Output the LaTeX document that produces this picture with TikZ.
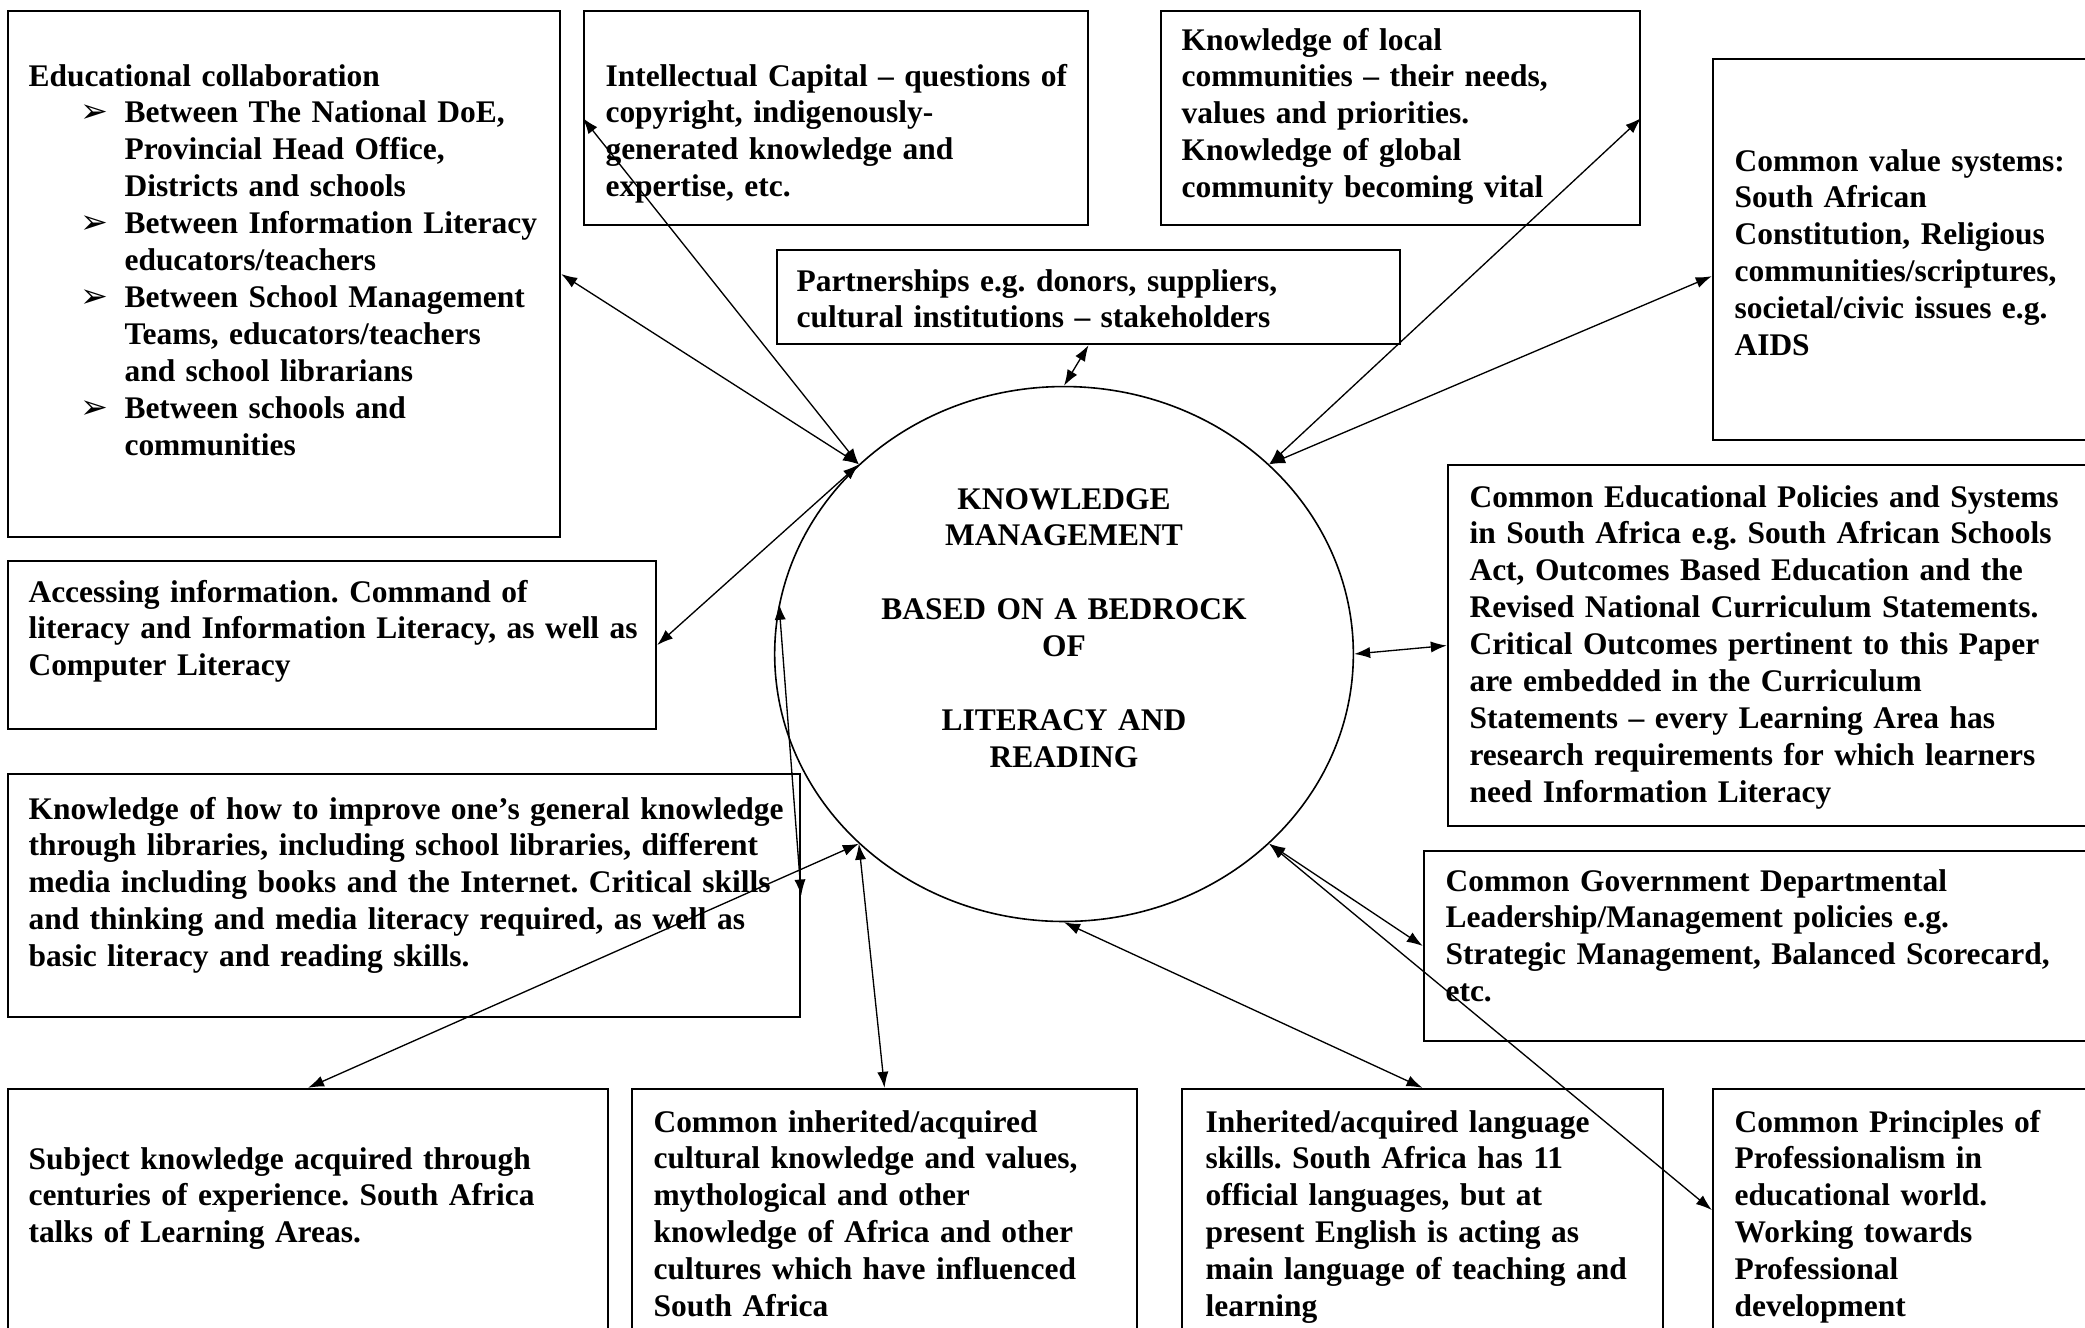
\documentclass[tikz,border=0pt]{standalone}
\usepackage{fontspec}
\setmainfont{Liberation Serif}
\newfontfamily\dingfont{DejaVu Sans}
\usetikzlibrary{arrows.meta,fit,shapes.geometric}
\frenchspacing
\newcommand\kmbullet{\hspace*{19.5pt}\makebox[16.5pt][l]{\dingfont\mdseries\fontsize{12.5}{13}\selectfont ➢}}
\newcommand\kmindent{\hspace*{36pt}}

\begin{document}
\begin{tikzpicture}[x=0.375pt,y=-0.375pt,
  card/.style={draw,line width=0.9pt,inner sep=0pt},
  blurb/.style={anchor=base west,align=left,text width=320pt,inner sep=0pt,font=\bfseries\fontsize{11.8}{13.85}\selectfont},
  link/.style={<->,>={Latex[length=6pt,width=4.2pt]},line width=0.5pt}]
  \useasboundingbox (0,0) rectangle (2085,1327); \clip (0,0) rectangle (2085,1327);
  \node[card,fit={(8,11) (560,537)}] (edu) {}; \node[card,fit={(584,11) (1088,225)}] (intel) {};
  \node[card,fit={(1161,11) (1640,225)}] (local) {}; \node[card,fit={(1713,59) (2100,440)}] (values) {};
  \node[card,fit={(777,250) (1400,344)}] (partner) {};
  \node[card,fit={(8,561) (656,729)}] (access) {}; \node[card,fit={(8,774) (800,1017)}] (improve) {};
  \node[card,fit={(1448,465) (2100,826)}] (policy) {}; \node[card,fit={(1424,851) (2100,1041)}] (govern) {};
  \node[card,fit={(8,1089) (608,1335)}] (subject) {}; \node[card,fit={(632,1089) (1137,1335)}] (culture) {};
  \node[card,fit={(1182,1089) (1663,1335)}] (language) {}; \node[card,fit={(1713,1089) (2100,1331)}] (prof) {};
  \node[draw,ellipse,line width=0.6pt,minimum width=217pt,minimum height=200.6pt,inner sep=0pt] (km) at (1064,654) {};

  \node[blurb] (edutext) at (28,86) {Educational collaboration\\
    \kmbullet Between The National DoE,\\ \kmindent Provincial Head Office,\\ \kmindent Districts and schools\\
    \kmbullet Between Information Literacy\\ \kmindent educators/teachers\\
    \kmbullet Between School Management\\ \kmindent Teams, educators/teachers\\ \kmindent and school librarians\\
    \kmbullet Between schools and\\ \kmindent communities};
  \node[blurb] (inteltext) at (605,86) {Intellectual Capital – questions of\\copyright, indigenously-\\generated knowledge and\\expertise, etc.};
  \node[blurb] (localtext) at (1181,50) {Knowledge of local\\communities – their needs,\\values and priorities.\\Knowledge of global\\community becoming vital};
  \node[blurb] (valuestext) at (1734,171) {Common value systems:\\South African\\Constitution, Religious\\communities/scriptures,\\societal/civic issues e.g.\\AIDS};
  \node[blurb] (partnertext) at (796,291) {Partnerships e.g. donors, suppliers,\\cultural institutions – stakeholders};
  \node[blurb,anchor=base,align=center] (kmtext) at (1064,509) {KNOWLEDGE\\MANAGEMENT\\[13.85pt]BASED ON A BEDROCK\\OF\\[13.85pt]LITERACY AND\\READING};
  \node[blurb] (accesstext) at (28,602) {Accessing information. Command of\\literacy and Information Literacy, as well as\\Computer Literacy};
  \node[blurb] (improvetext) at (28,819) {Knowledge of how to improve one’s general knowledge\\through libraries, including school libraries, different\\media including books and the Internet. Critical skills\\and thinking and media literacy required, as well as\\basic literacy and reading skills.};
  \node[blurb] (policytext) at (1469,507) {Common Educational Policies and Systems\\in South Africa e.g. South African Schools\\Act, Outcomes Based Education and the\\Revised National Curriculum Statements.\\Critical Outcomes pertinent to this Paper\\are embedded in the Curriculum\\Statements – every Learning Area has\\research requirements for which learners\\need Information Literacy};
  \node[blurb] (governtext) at (1445,891) {Common Government Departmental\\Leadership/Management policies e.g.\\Strategic Management, Balanced Scorecard,\\etc.};
  \node[blurb] (subjecttext) at (28,1169) {Subject knowledge acquired through\\centuries of experience. South Africa\\talks of Learning Areas.};
  \node[blurb] (culturetext) at (653,1132) {Common inherited/acquired\\cultural knowledge and values,\\mythological and other\\knowledge of Africa and other\\cultures which have influenced\\South Africa};
  \node[blurb] (languagetext) at (1205,1132) {Inherited/acquired language\\skills. South Africa has 11\\official languages, but at\\present English is acting as\\main language of teaching and\\learning};
  \node[blurb] (proftext) at (1734,1132) {Common Principles of\\Professionalism in\\educational world.\\Working towards\\Professional\\development};

  \draw[link] (km.north west) -- (edu.east); \draw[link] (km.north west) -- (intel.west);
  \draw[link] (km.north west) -- (access.east); \draw[link] (km.north) -- (partner.south);
  \draw[link] (km.north east) -- (local.east); \draw[link] (km.north east) -- ([yshift=-10pt]values.west);
  \draw[link] (km.east) -- (policy.west); \draw[link] (km.170) -- (improve.east);
  \draw[link] (km.south west) -- (subject.north); \draw[link] (km.south west) -- (culture.north);
  \draw[link] (km.south) -- (language.north);
  \draw[link] (km.south east) -- (govern.west); \draw[link] (km.south east) -- (prof.west);
\end{tikzpicture}
\end{document}
